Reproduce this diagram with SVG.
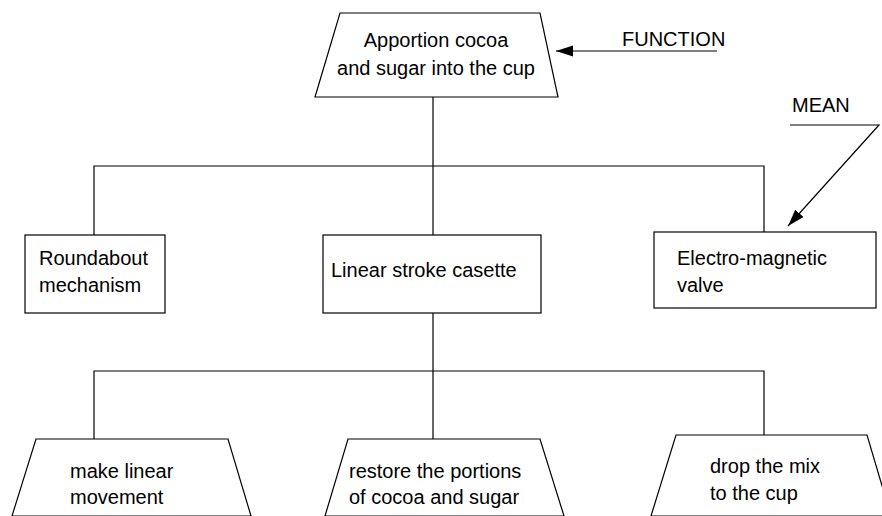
<svg xmlns="http://www.w3.org/2000/svg" width="882" height="516" viewBox="0 0 882 516">
<style>
.s{fill:#fff;stroke:#000;stroke-width:1.2}
.c{fill:none;stroke:#000;stroke-width:1.2}
text{font-family:"Liberation Sans",Arial,sans-serif;font-size:20px;fill:#000}
.m{text-anchor:middle}
</style>
<defs>
<marker id="ah" markerWidth="18" markerHeight="12" refX="17" refY="6" orient="auto" markerUnits="userSpaceOnUse">
<path d="M0,0.5 L17,6 L0,11.5 Z" fill="#000"/>
</marker>
</defs>
<rect width="882" height="516" fill="#fff"/>
<g id="connectors">
<path class="c" d="M433,97 V166 M94,235 V166 H764 V232 M433,166 V235"/>
<path class="c" d="M433,313 V371 M94,439 V371 H764 V435 M433,371 V439"/>
<path class="c" d="M717,51 H556" marker-end="url(#ah)"/>
<path class="c" d="M790,125 H879 L788,226" marker-end="url(#ah)"/>
</g>
<g id="label-function"><text x="622" y="46">FUNCTION</text></g>
<g id="label-mean"><text x="792" y="112">MEAN</text></g>
<g id="n-apportion">
<polygon class="s" points="340,13 540,13 558,97 315,97"/>
<text class="m" x="436" y="47">Apportion cocoa</text>
<text class="m" x="436" y="75">and sugar into the cup</text>
</g>
<g id="n-roundabout">
<rect class="s" x="25" y="235" width="140" height="78"/>
<text x="39" y="265">Roundabout</text>
<text x="39" y="292">mechanism</text>
</g>
<g id="n-linear">
<rect class="s" x="323" y="235" width="218" height="78"/>
<text x="331" y="277">Linear stroke casette</text>
</g>
<g id="n-valve">
<rect class="s" x="654" y="232" width="222" height="76"/>
<text x="677" y="265">Electro-magnetic</text>
<text x="677" y="292">valve</text>
</g>
<g id="n-make">
<polygon class="s" points="36,439 228,439 251,516 12,516"/>
<text x="70" y="478">make linear</text>
<text x="70" y="504">movement</text>
</g>
<g id="n-restore">
<polygon class="s" points="348,439 540,439 564,516 325,516"/>
<text x="349" y="478">restore the portions</text>
<text x="349" y="504">of cocoa and sugar</text>
</g>
<g id="n-drop">
<polygon class="s" points="676,435 867,435 891,516 651,516"/>
<text x="710" y="473">drop the mix</text>
<text x="710" y="500">to the cup</text>
</g>
</svg>
